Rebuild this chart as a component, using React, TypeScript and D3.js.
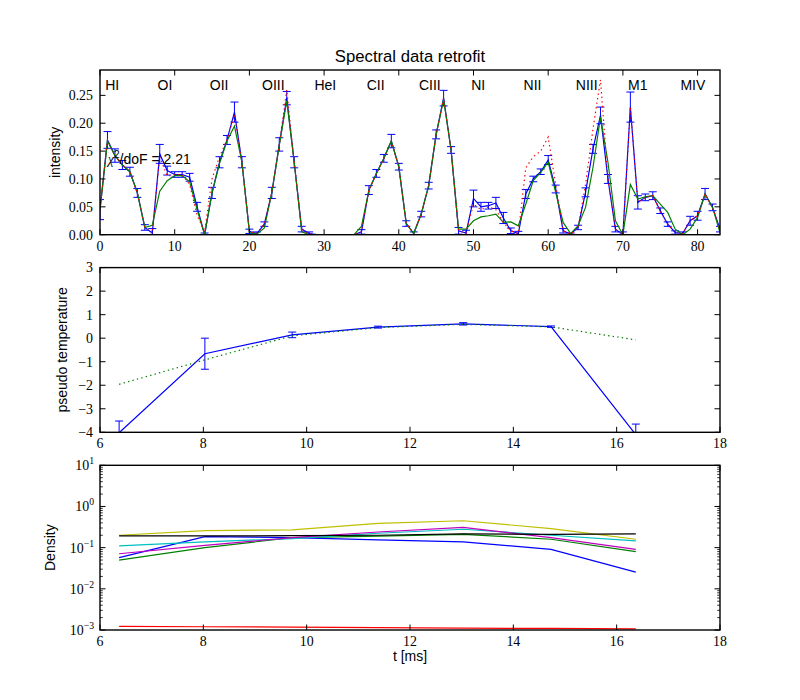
import React from 'react';
import * as d3 from 'd3';

// ---------- Panel 1: spectral data ----------
const ionLabels = ['HI', 'OI', 'OII', 'OIII', 'HeI', 'CII', 'CIII', 'NI', 'NII', 'NIII', 'M1', 'MIV'];
const ionX = [0.7, 7.7, 14.7, 21.7, 28.7, 35.7, 42.7, 49.7, 56.7, 63.7, 70.7, 77.7];

const measured = [
  0.045, 0.170, 0.142, 0.125, 0.113, 0.075, 0.013, 0.003, 0.145, 0.115,
  0.108, 0.108, 0.103, 0.050, 0.000, 0.075, 0.130, 0.170, 0.220, 0.130,
  0.006, 0.002, 0.019, 0.075, 0.162, 0.245, 0.130, 0.010, 0.002, 0.000,
  0.000, 0.000, 0.000, 0.000, 0.000, 0.005, 0.080, 0.110, 0.137, 0.168,
  0.122, 0.020, 0.002, 0.037, 0.088, 0.180, 0.245, 0.152, 0.007, 0.003,
  0.065, 0.050, 0.052, 0.057, 0.030, 0.007, 0.002, 0.073, 0.100, 0.113,
  0.134, 0.082, 0.007, 0.001, 0.013, 0.076, 0.154, 0.214, 0.100, 0.010,
  0.000, 0.229, 0.058, 0.067, 0.070, 0.043, 0.019, 0.004, 0.002, 0.025,
  0.034, 0.073, 0.049, 0.010,
];
const measuredErr = [
  0.018, 0.015, 0.012, 0.008, 0.008, 0.008, 0.005, 0.008, 0.017, 0.008,
  0.005, 0.005, 0.007, 0.008, 0.003, 0.010, 0.010, 0.008, 0.018, 0.010,
  0.004, 0.003, 0.004, 0.010, 0.012, 0.012, 0.010, 0.005, 0.003, 0.000,
  0.000, 0.000, 0.000, 0.000, 0.000, 0.004, 0.008, 0.007, 0.007, 0.012,
  0.006, 0.005, 0.003, 0.005, 0.006, 0.008, 0.014, 0.006, 0.006, 0.005,
  0.015, 0.008, 0.006, 0.010, 0.010, 0.005, 0.004, 0.008, 0.005, 0.005,
  0.008, 0.007, 0.004, 0.002, 0.004, 0.008, 0.008, 0.015, 0.008, 0.005,
  0.005, 0.027, 0.012, 0.006, 0.007, 0.005, 0.004, 0.003, 0.003, 0.008,
  0.008, 0.010, 0.006, 0.005,
];
const fitted = [
  0.045, 0.168, 0.142, 0.125, 0.113, 0.075, 0.013, 0.017, 0.078, 0.097,
  0.106, 0.106, 0.095, 0.045, 0.000, 0.075, 0.128, 0.168, 0.195, 0.130,
  0.004, 0.001, 0.012, 0.075, 0.160, 0.240, 0.130, 0.005, 0.000, 0.000,
  0.000, 0.000, 0.000, 0.000, 0.000, 0.015, 0.080, 0.110, 0.137, 0.168,
  0.122, 0.020, 0.002, 0.037, 0.088, 0.180, 0.243, 0.152, 0.010, 0.010,
  0.025, 0.032, 0.034, 0.037, 0.022, 0.023, 0.016, 0.055, 0.097, 0.112,
  0.130, 0.076, 0.022, 0.002, 0.016, 0.049, 0.121, 0.211, 0.130, 0.025,
  0.000, 0.090, 0.064, 0.068, 0.070, 0.055, 0.040, 0.010, 0.000, 0.010,
  0.031, 0.073, 0.049, 0.004,
];
const retrofit = [
  0.045, 0.170, 0.142, 0.125, 0.113, 0.075, 0.013, 0.003, 0.140, 0.105,
  0.108, 0.108, 0.090, 0.035, 0.005, 0.100, 0.140, 0.170, 0.215, 0.130,
  0.006, 0.002, 0.019, 0.075, 0.162, 0.260, 0.130, 0.010, 0.002, 0.000,
  0.000, 0.000, 0.000, 0.000, 0.000, 0.005, 0.080, 0.110, 0.137, 0.168,
  0.122, 0.020, 0.002, 0.037, 0.088, 0.180, 0.245, 0.152, 0.007, 0.003,
  0.055, 0.045, 0.050, 0.045, 0.022, 0.007, 0.002, 0.120, 0.140, 0.150,
  0.175, 0.090, 0.007, 0.001, 0.013, 0.090, 0.190, 0.278, 0.100, 0.010,
  0.000, 0.229, 0.058, 0.067, 0.070, 0.043, 0.019, 0.004, 0.002, 0.025,
  0.034, 0.073, 0.049, 0.010,
];
const chiText = '/doF = 2.21';
const intensityTicks = [0, 0.05, 0.1, 0.15, 0.2, 0.25];
const channelTicks = [0, 10, 20, 30, 40, 50, 60, 70, 80];

// ---------- Panel 2: pseudo temperature ----------
const times = [6.37, 8.03, 9.72, 11.38, 13.03, 14.73, 16.37];
const tempMeasured = [-4.02, -0.66, 0.14, 0.47, 0.61, 0.49, -4.1];
const tempErr = [0.5, 0.66, 0.12, 0.04, 0.05, 0.03, 0.45];
const tempPrior = [-1.96, -0.92, 0.1, 0.45, 0.59, 0.48, -0.07];
const tempTicks = [-4, -3, -2, -1, 0, 1, 2, 3];
const timeTicks = [6, 8, 10, 12, 14, 16, 18];

// ---------- Panel 3: densities ----------
const densBlue = [0.057, 0.186, 0.175, 0.155, 0.138, 0.091, 0.0255];
const densGreen = [0.05, 0.1, 0.175, 0.19, 0.21, 0.16, 0.08];
const densRed = [0.00123, 0.0012, 0.00118, 0.00114, 0.00111, 0.00109, 0.00106];
const densCyan = [0.11, 0.138, 0.166, 0.224, 0.28, 0.2, 0.146];
const densMagenta = [0.071, 0.114, 0.175, 0.24, 0.31, 0.175, 0.091];
const densYellow = [0.2, 0.26, 0.27, 0.39, 0.45, 0.29, 0.16];
const densBlack = [0.193, 0.193, 0.195, 0.2, 0.216, 0.21, 0.216];
const densExponents = [-3, -2, -1, 0, 1];

const L = 100, R = 720, PH = 164.7;
const TOPS = [70, 267.6, 465.3];
const SANS = '"Liberation Sans", Arial, sans-serif';
const SERIF = '"Liberation Serif", "Times New Roman", serif';
const TFS = 13.9;
const MAJ = 5.5, MIN = 2.8;
const LW = 1.2;

function Frame({ top, id, children }: { top: number; id: string; children?: React.ReactNode }) {
  return (
    <g>
      <defs>
        <clipPath id={id}>
          <rect x={L} y={top} width={R - L} height={PH} />
        </clipPath>
      </defs>
      <g clipPath={`url(#${id})`}>{children}</g>
      <rect x={L} y={top} width={R - L} height={PH} fill="none" stroke="#000" strokeWidth={1.4} />
    </g>
  );
}

function XTicks({ scale, ticks, top }: { scale: any; ticks: number[]; top: number }) {
  const bottom = top + PH;
  return (
    <g>
      {ticks.map((t) => {
        const x = scale(t);
        return (
          <g key={t}>
            <line x1={x} x2={x} y1={bottom} y2={bottom - MAJ} stroke="#000" strokeWidth={1} />
            <line x1={x} x2={x} y1={top} y2={top + MAJ} stroke="#000" strokeWidth={1} />
            <text x={x} y={bottom + 16} textAnchor="middle" fontFamily={SERIF} fontSize={TFS}>
              {String(t).replace('-', '\u2212')}
            </text>
          </g>
        );
      })}
    </g>
  );
}

function YTicks({ scale, ticks, fmt }: { scale: any; ticks: number[]; fmt: (v: number) => string }) {
  return (
    <g>
      {ticks.map((t) => {
        const y = scale(t);
        return (
          <g key={t}>
            <line x1={L} x2={L + MAJ} y1={y} y2={y} stroke="#000" strokeWidth={1} />
            <line x1={R} x2={R - MAJ} y1={y} y2={y} stroke="#000" strokeWidth={1} />
            <text x={L - 7} y={y} dy="0.35em" textAnchor="end" fontFamily={SERIF} fontSize={TFS}>
              {fmt(t)}
            </text>
          </g>
        );
      })}
    </g>
  );
}

function ErrorBars({ xs, ys, es, xScale, yScale, color }: any) {
  return (
    <g stroke={color} strokeWidth={1}>
      {ys.map((v: number, i: number) => {
        const x = xScale(xs[i]);
        const y1 = yScale(v - es[i]);
        const y2 = yScale(v + es[i]);
        return (
          <g key={i}>
            <line x1={x} x2={x} y1={y1} y2={y2} />
            <line x1={x - 4} x2={x + 4} y1={y1} y2={y1} />
            <line x1={x - 4} x2={x + 4} y1={y2} y2={y2} />
          </g>
        );
      })}
    </g>
  );
}

export default function App() {
  // Panel 1
  const t1 = TOPS[0];
  const x1 = d3.scaleLinear().domain([0, 83]).range([L, R]);
  const y1 = d3.scaleLinear().domain([0, 0.2955]).range([t1 + PH, t1]);
  const chan = measured.map((_, i) => i);
  const line1 = (arr: number[]) =>
    d3.line<number>().x((_, i) => x1(chan[i])).y((d) => y1(d))(arr) || '';

  // Panel 2
  const t2 = TOPS[1];
  const x2 = d3.scaleLinear().domain([6, 18]).range([L, R]);
  const y2 = d3.scaleLinear().domain([-4, 3]).range([t2 + PH, t2]);
  const line2 = (arr: number[]) =>
    d3.line<number>().x((_, i) => x2(times[i])).y((d) => y2(d))(arr) || '';

  // Panel 3
  const t3 = TOPS[2];
  const x3 = d3.scaleLinear().domain([6, 18]).range([L, R]);
  const y3 = d3.scaleLog().domain([1e-3, 1e1]).range([t3 + PH, t3]);
  const line3 = (arr: number[]) =>
    d3.line<number>().x((_, i) => x3(times[i])).y((d) => y3(d))(arr) || '';
  const densSeries: [number[], string][] = [
    [densBlue, '#0000ff'],
    [densGreen, '#008000'],
    [densRed, '#ff0000'],
    [densCyan, '#00bfbf'],
    [densMagenta, '#bf00bf'],
    [densYellow, '#bfbf00'],
    [densBlack, '#000000'],
  ];
  const minorTicks: number[] = [];
  for (let e = -3; e < 1; e++) for (let m = 2; m <= 9; m++) minorTicks.push(m * Math.pow(10, e));

  return (
    <svg width={800} height={700} style={{ position: 'absolute', left: 0, top: 0, background: '#fff' }}>
      <rect x={0} y={0} width={800} height={700} fill="#fff" />
      {/* Title */}
      <text x={(L + R) / 2} y={62} textAnchor="middle" fontFamily={SANS} fontSize={16.7}>
        Spectral data retrofit
      </text>

      {/* Panel 1 */}
      <Frame top={t1} id="clip1">
        <ErrorBars xs={chan} ys={measured} es={measuredErr} xScale={x1} yScale={y1} color="#0000ff" />
        <path d={line1(measured)} fill="none" stroke="#0000ff" strokeWidth={LW} />
        <path d={line1(fitted)} fill="none" stroke="#008000" strokeWidth={LW} />
        <path d={line1(retrofit)} fill="none" stroke="#ff0000" strokeWidth={LW} strokeDasharray="1.4,3.2" />
      </Frame>
      <XTicks scale={x1} ticks={channelTicks} top={t1} />
      <YTicks scale={y1} ticks={intensityTicks} fmt={(v) => v.toFixed(2)} />
      {ionLabels.map((lab, i) => (
        <text key={lab} x={x1(ionX[i])} y={y1(0.26)} fontFamily={SANS} fontSize={14}>
          {lab}
        </text>
      ))}
      <text x={x1(1.05)} y={y1(0.127)} fontFamily={SANS} fontSize={14}>
        <tspan fontFamily={SERIF} fontStyle="italic">χ</tspan>
        <tspan dy={-6} fontSize={10}>2</tspan>
        <tspan dy={6}>{chiText}</tspan>
      </text>
      <text transform={`translate(60,${t1 + PH / 2}) rotate(-90)`} textAnchor="middle" fontFamily={SANS} fontSize={14}>
        intensity
      </text>

      {/* Panel 2 */}
      <Frame top={t2} id="clip2">
        <ErrorBars xs={times} ys={tempMeasured} es={tempErr} xScale={x2} yScale={y2} color="#0000ff" />
        <path d={line2(tempMeasured)} fill="none" stroke="#0000ff" strokeWidth={LW} />
        <path d={line2(tempPrior)} fill="none" stroke="#008000" strokeWidth={LW} strokeDasharray="1.4,3.2" />
      </Frame>
      <XTicks scale={x2} ticks={timeTicks} top={t2} />
      <YTicks scale={y2} ticks={tempTicks} fmt={(v) => String(v).replace('-', '\u2212')} />
      <text transform={`translate(67,${t2 + PH / 2}) rotate(-90)`} textAnchor="middle" fontFamily={SANS} fontSize={14}>
        pseudo temperature
      </text>

      {/* Panel 3 */}
      <Frame top={t3} id="clip3">
        {densSeries.map(([arr, c], i) => (
          <path key={i} d={line3(arr)} fill="none" stroke={c} strokeWidth={LW} />
        ))}
      </Frame>
      <XTicks scale={x3} ticks={timeTicks} top={t3} />
      {minorTicks.map((m, i) => (
        <g key={i}>
          <line x1={L} x2={L + MIN} y1={y3(m)} y2={y3(m)} stroke="#000" strokeWidth={0.8} />
          <line x1={R} x2={R - MIN} y1={y3(m)} y2={y3(m)} stroke="#000" strokeWidth={0.8} />
        </g>
      ))}
      {densExponents.map((e) => {
        const y = y3(Math.pow(10, e));
        return (
          <g key={e}>
            <line x1={L} x2={L + MAJ} y1={y} y2={y} stroke="#000" strokeWidth={1} />
            <line x1={R} x2={R - MAJ} y1={y} y2={y} stroke="#000" strokeWidth={1} />
            <text x={L - 6} y={y} dy="0.35em" textAnchor="end" fontFamily={SERIF} fontSize={TFS}>
              <tspan>10</tspan>
              <tspan dy={-6} fontSize={9.7}>{String(e).replace('-', '\u2212')}</tspan>
            </text>
          </g>
        );
      })}
      <text transform={`translate(55,${t3 + PH / 2}) rotate(-90)`} textAnchor="middle" fontFamily={SANS} fontSize={14}>
        Density
      </text>
      <text x={(L + R) / 2} y={661} textAnchor="middle" fontFamily={SANS} fontSize={14}>
        t [ms]
      </text>
    </svg>
  );
}
